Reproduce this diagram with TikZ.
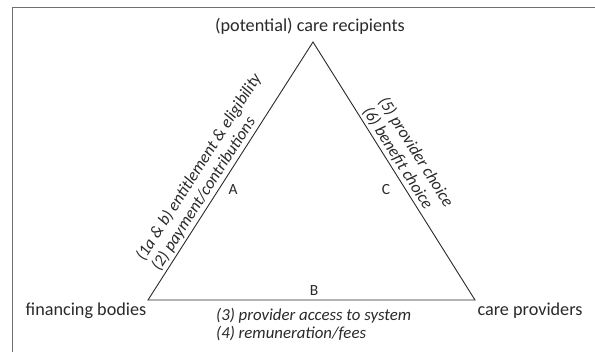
\documentclass[tikz,border=0pt]{standalone}
\usepackage{fontspec}
\setmainfont{Carlito}
\definecolor{framegray}{HTML}{707070}
\definecolor{inkgray}{HTML}{2A2A2A}
\tikzset{
	corner/.style={font=\fontsize{18.2}{21}\selectfont, text=inkgray, inner sep=1pt},
	edgelabel/.style={font=\fontsize{16.8}{18.5}\selectfont\itshape, text=inkgray, align=left, inner sep=1pt},
	letter/.style={font=\fontsize{15.5}{18}\selectfont, text=inkgray, inner sep=1pt}
}
\begin{document}
\begin{tikzpicture}[x=1pt,y=-1pt]
			\useasboundingbox (0,0) rectangle (595,352);
			\fill[white] (0,0) rectangle (595,352);
			% frame (cut off at right and bottom)
			\draw[framegray, line width=1.3pt] (12.5,352) -- (12.5,7.7) -- (595,7.7);

			% the three corners
			\coordinate (top) at (313,42);
			\coordinate (fin) at (148,300);
			\coordinate (prov) at (475,300);
			\draw[inkgray, line width=0.9pt, line join=miter] (fin) -- (top) -- (prov) -- cycle;

			\node[corner] (recip) at (310,26) {(potential) care recipients};
			\node[corner] (finbod) at (86,311) {financing bodies};
			\node[corner] (carepr) at (530,311) {care providers};

			% edge letters
			\node[letter] (A) at (233,190) {A};
			\node[letter] (B) at (314,291) {B};
			\node[letter] (C) at (386,190) {C};

			% relations along the edges
			\path (fin) -- (top) node[edgelabel, sloped, pos=0.09, anchor=south west, inner sep=2.5pt] (relA)
				{(1a \& b) entitlement \& eligibility\\(2) payment/contributions};
			\path (top) -- (prov) node[edgelabel, sloped, pos=0.27, anchor=south west, inner sep=2.5pt] (relC)
				{(5) provider choice\\(6) benefit choice};
			\node[edgelabel, anchor=north west] (relB) at (215,307)
				{(3) provider access to system\\(4) remuneration/fees};
\end{tikzpicture}
\end{document}
